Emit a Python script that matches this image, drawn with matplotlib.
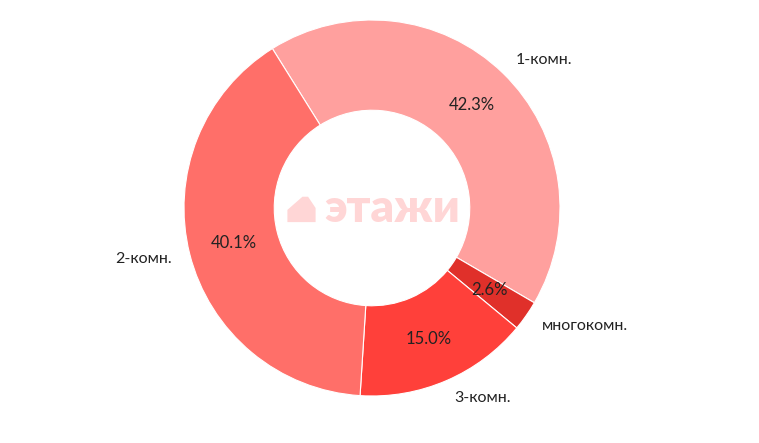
import matplotlib
matplotlib.use('Agg')
import matplotlib.pyplot as plt
from matplotlib.patches import Polygon

plt.rcParams['font.family'] = ['Lato', 'DejaVu Sans']

labels = ['1-комн.', 'многокомн.', '3-комн.', '2-комн.']
shares = [42.3, 2.6, 15.0, 40.1]
colors = ['#FFA09E', '#E0302A', '#FF403A', '#FF6F69']
watermark = 'этажи'

W, H = 759, 443
cx, cy, R = 372, 208, 188  # pixel centre/radius of donut

fig = plt.figure(figsize=(W / 100, H / 100), dpi=100)
ax = fig.add_axes([0, 0, 1, 1])

wedges, texts, autotexts = ax.pie(
    shares, labels=labels, colors=colors, startangle=122, counterclock=False,
    autopct='%1.1f%%', pctdistance=0.76, labeldistance=1.1,
    wedgeprops=dict(width=0.48, edgecolor='white', linewidth=0.8),
    textprops=dict(fontsize=11.5, color='#222222'))

for t in autotexts:
    t.set_fontsize(12)
    t.set_color('#222222')

# watermark in the hole
ax.text(0.11, 0.0, watermark, ha='center', va='center', fontsize=33,
        fontweight='heavy', color='#FFD6D6', zorder=5)
house = Polygon([(-0.45, -0.075), (-0.45, -0.01), (-0.37, 0.06), (-0.34, 0.06),
                 (-0.30, 0.0), (-0.30, -0.075)], closed=True,
                facecolor='#FFD6D6', edgecolor='none', zorder=5)
ax.add_patch(house)

ax.set_xlim(-cx / R, (W - cx) / R)
ax.set_ylim(-(H - cy) / R, cy / R)
ax.set_aspect('equal')
ax.axis('off')

fig.savefig('out.png', dpi=100, facecolor='white')
